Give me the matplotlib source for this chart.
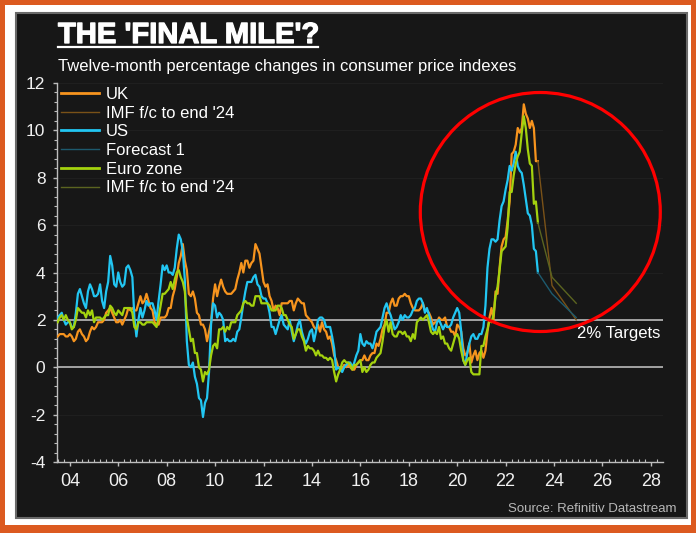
import numpy as np
import matplotlib
matplotlib.use("Agg")
import matplotlib.pyplot as plt
import matplotlib.patheffects as pe
from matplotlib.patches import Rectangle, Ellipse
from matplotlib.lines import Line2D

plt.rcParams['font.family'] = ['Liberation Sans', 'DejaVu Sans']
plt.rcParams['axes.unicode_minus'] = False

# Monthly 12-month CPI changes, Jul 2003 .. May 2023
uk = [1.3, 1.4, 1.4, 1.4, 1.3, 1.3,
      1.4, 1.3, 1.1, 1.2, 1.5, 1.6, 1.4, 1.3, 1.1, 1.2, 1.5, 1.7,
      1.6, 1.7, 1.9, 1.9, 1.9, 2.0, 2.3, 2.4, 2.5, 2.3, 2.1, 1.9,
      1.9, 2.0, 1.8, 2.0, 2.2, 2.5, 2.4, 2.5, 2.4, 2.4, 2.7, 3.0,
      2.7, 2.8, 3.1, 2.8, 2.5, 2.4, 1.9, 1.8, 1.8, 2.1, 2.1, 2.1,
      2.2, 2.5, 2.5, 3.0, 3.3, 3.8, 4.4, 4.7, 5.2, 4.5, 4.1, 3.1,
      3.0, 3.2, 2.9, 2.3, 2.2, 1.8, 1.8, 1.6, 1.1, 1.5, 1.9, 2.9,
      3.5, 3.0, 3.4, 3.7, 3.4, 3.2, 3.1, 3.1, 3.1, 3.2, 3.3, 3.7,
      4.0, 4.4, 4.0, 4.5, 4.5, 4.2, 4.4, 4.5, 5.2, 5.0, 4.8, 4.2,
      3.6, 3.4, 3.5, 3.0, 2.8, 2.4, 2.6, 2.5, 2.2, 2.7, 2.7, 2.7,
      2.7, 2.8, 2.8, 2.4, 2.7, 2.9, 2.8, 2.7, 2.7, 2.2, 2.1, 2.0,
      1.9, 1.7, 1.6, 1.8, 1.5, 1.9, 1.6, 1.5, 1.2, 1.3, 1.0, 0.5,
      0.3, 0.0, 0.0, -0.1, 0.1, 0.0, 0.1, 0.0, -0.1, -0.1, 0.1, 0.2,
      0.3, 0.3, 0.5, 0.3, 0.3, 0.5, 0.6, 0.6, 1.0, 0.9, 1.2, 1.6,
      1.8, 2.3, 2.3, 2.7, 2.9, 2.6, 2.6, 2.9, 3.0, 3.0, 3.1, 3.0,
      3.0, 2.7, 2.5, 2.4, 2.4, 2.4, 2.5, 2.7, 2.4, 2.4, 2.3, 2.1,
      1.8, 1.9, 1.9, 2.1, 2.0, 2.0, 2.1, 1.7, 1.7, 1.5, 1.5, 1.3,
      1.8, 1.7, 1.5, 0.8, 0.5, 0.6, 1.0, 0.2, 0.5, 0.7, 0.3, 0.6,
      0.7, 0.4, 0.7, 1.5, 2.1, 2.5, 2.0, 3.2, 3.1, 4.2, 5.1, 5.4,
      5.5, 6.2, 7.0, 9.0, 9.1, 9.4, 10.1, 9.9, 10.1, 11.1, 10.7, 10.5,
      10.1, 10.4, 10.1, 8.7, 8.7]

us = [2.1, 2.2, 2.3, 2.0, 1.8, 1.9,
      1.9, 1.7, 1.7, 2.3, 3.1, 3.3, 3.0, 2.7, 2.5, 3.2, 3.5, 3.3,
      3.0, 3.0, 3.1, 3.5, 2.8, 2.5, 3.2, 3.6, 4.7, 4.3, 3.5, 3.4,
      4.0, 3.6, 3.4, 3.5, 4.2, 4.3, 4.1, 3.8, 2.1, 1.3, 2.0, 2.5,
      2.1, 2.4, 2.8, 2.6, 2.7, 2.7, 2.4, 2.0, 2.8, 3.5, 4.3, 4.1,
      4.3, 4.0, 4.0, 3.9, 4.2, 5.0, 5.6, 5.4, 4.9, 3.7, 1.1, 0.1,
      0.0, 0.2, -0.4, -0.7, -1.3, -1.4, -2.1, -1.5, -1.3, -0.2, 1.8, 2.7,
      2.6, 2.1, 2.3, 2.2, 2.0, 1.1, 1.2, 1.1, 1.1, 1.2, 1.1, 1.5,
      1.6, 2.1, 2.7, 3.2, 3.6, 3.6, 3.6, 3.8, 3.9, 3.5, 3.4, 3.0,
      2.9, 2.9, 2.7, 2.3, 1.7, 1.7, 1.4, 1.7, 2.0, 2.2, 1.8, 1.7,
      1.6, 2.0, 1.5, 1.1, 1.4, 1.8, 2.0, 1.5, 1.2, 1.0, 1.2, 1.5,
      1.6, 1.1, 1.5, 2.0, 2.1, 2.1, 2.0, 1.7, 1.7, 1.7, 1.3, 0.8,
      -0.1, 0.0, -0.1, -0.2, 0.0, 0.1, 0.2, 0.2, 0.0, 0.2, 0.5, 0.7,
      1.4, 1.0, 0.9, 1.1, 1.0, 1.0, 0.8, 1.1, 1.5, 1.6, 1.7, 2.1,
      2.5, 2.7, 2.4, 2.2, 1.9, 1.6, 1.7, 1.9, 2.2, 2.0, 2.2, 2.1,
      2.1, 2.2, 2.4, 2.5, 2.8, 2.9, 2.9, 2.7, 2.3, 2.5, 2.2, 1.9,
      1.6, 1.5, 1.9, 2.0, 1.8, 1.6, 1.8, 1.7, 1.7, 1.8, 2.1, 2.3,
      2.5, 2.3, 1.5, 0.3, 0.1, 0.6, 1.0, 1.3, 1.4, 1.2, 1.2, 1.4,
      1.4, 1.7, 2.6, 4.2, 5.0, 5.4, 5.4, 5.3, 5.4, 6.2, 6.8, 7.0,
      7.5, 7.9, 8.5, 8.3, 8.6, 9.1, 8.5, 8.3, 8.2, 7.7, 7.1, 6.5,
      6.4, 6.0, 5.0, 4.9, 4.0]

ez = [1.9, 2.1, 2.2, 2.0, 2.2, 2.0,
      1.9, 1.6, 1.7, 2.0, 2.5, 2.4, 2.3, 2.3, 2.1, 2.4, 2.2, 2.4,
      1.9, 2.1, 2.1, 2.1, 2.0, 2.1, 2.2, 2.2, 2.6, 2.5, 2.3, 2.2,
      2.4, 2.3, 2.2, 2.5, 2.5, 2.5, 2.5, 2.3, 1.7, 1.6, 1.9, 1.9,
      1.8, 1.8, 1.9, 1.9, 1.9, 1.9, 1.8, 1.7, 2.1, 2.6, 3.1, 3.1,
      3.2, 3.3, 3.6, 3.3, 3.7, 4.0, 4.1, 3.8, 3.6, 3.2, 2.1, 1.6,
      1.1, 1.2, 0.6, 0.6, 0.0, -0.1, -0.6, -0.2, -0.3, -0.1, 0.5, 0.9,
      1.0, 0.8, 1.6, 1.6, 1.7, 1.5, 1.7, 1.6, 1.9, 1.9, 1.9, 2.2,
      2.3, 2.4, 2.7, 2.8, 2.7, 2.7, 2.6, 2.6, 3.0, 3.0, 3.0, 2.7,
      2.7, 2.7, 2.7, 2.6, 2.4, 2.4, 2.4, 2.6, 2.6, 2.5, 2.2, 2.2,
      2.0, 1.8, 1.7, 1.2, 1.4, 1.6, 1.6, 1.3, 1.1, 0.7, 0.9, 0.8,
      0.8, 0.7, 0.5, 0.7, 0.5, 0.5, 0.4, 0.4, 0.3, 0.4, 0.3, -0.2,
      -0.6, -0.3, -0.1, 0.2, 0.3, 0.2, 0.2, 0.1, -0.1, 0.1, 0.1, 0.2,
      0.3, -0.2, 0.0, -0.2, -0.1, 0.1, 0.2, 0.2, 0.4, 0.5, 0.6, 1.1,
      1.7, 2.0, 1.5, 1.9, 1.4, 1.3, 1.3, 1.5, 1.5, 1.4, 1.5, 1.3,
      1.3, 1.1, 1.4, 1.2, 1.9, 2.0, 2.1, 2.0, 2.1, 2.2, 1.9, 1.5,
      1.4, 1.5, 1.4, 1.7, 1.2, 1.3, 1.0, 1.0, 0.8, 0.7, 1.0, 1.3,
      1.4, 1.2, 0.7, 0.3, 0.1, 0.3, 0.4, -0.2, -0.3, -0.3, -0.3, -0.3,
      0.9, 0.9, 1.3, 1.6, 2.0, 1.9, 2.2, 3.0, 3.4, 4.1, 4.9, 5.0,
      5.1, 5.9, 7.4, 7.4, 8.1, 8.6, 8.9, 9.1, 9.9, 10.6, 10.1, 9.2,
      8.6, 8.5, 6.9, 7.0, 6.1]

# IMF forecasts: May 2023 -> end '23 -> end '24
fc_x = [2023 + 4 / 12, 2023 + 11 / 12, 2024 + 11 / 12]
uk_fc = [8.7, 3.45, 2.0]
us_fc = [4.0, 3.1, 2.1]
ez_fc = [6.1, 3.8, 2.7]

x = 2003.5 + np.arange(len(uk)) / 12

W, H = 696, 533
def fx(p):
    return p / W
def fy(p):
    return 1 - p / H

fig = plt.figure(figsize=(W / 100, H / 100), dpi=100)
fig.patch.set_facecolor('#DC5A20')
fig.patches.append(Rectangle((fx(5), fy(525)), fx(686), 520 / H, transform=fig.transFigure,
                             facecolor='white', edgecolor='none', zorder=0))
fig.patches.append(Rectangle((fx(16), fy(518)), fx(671), 505 / H, transform=fig.transFigure,
                             facecolor='#171717', edgecolor='#6a6a6a', lw=1.5, zorder=1))

ax = fig.add_axes([fx(56.5), fy(462), (663 - 56.5) / W, (462 - 83) / H])
ax.set_facecolor('none')
ax.set_zorder(3)

for v in range(-4, 13, 2):
    ax.axhline(v, color='#1f1f1f', lw=0.8, zorder=1)
ax.axhline(0, color='#c8c8c8', lw=1.1, zorder=2)
ax.axhline(2, color='#c8c8c8', lw=1.1, zorder=2)

ax.plot(x, uk, color='#F7941E', lw=1.6, label='UK', zorder=3)
ax.plot(fc_x, uk_fc, color='#7a5218', lw=1.0, label="IMF f/c to end '24", zorder=3)
ax.plot(x, us, color='#22C6F2', lw=1.6, label='US', zorder=3)
ax.plot(fc_x, us_fc, color='#1d5a6e', lw=1.0, label='Forecast 1', zorder=3)
ax.plot(x, ez, color='#A4D20E', lw=1.6, label='Euro zone', zorder=3)
ax.plot(fc_x, ez_fc, color='#5b6420', lw=1.0, label="IMF f/c to end '24", zorder=3)

ax.set_xlim(2003.45, 2028.5)
ax.set_ylim(-4, 12)
ax.set_yticks(range(-4, 13, 2))
ax.set_yticklabels([str(v) for v in range(-4, 13, 2)])
ax.set_yticks(np.arange(-4, 12.01, 0.4), minor=True)
ax.set_xticks(range(2004, 2029, 2))
ax.set_xticklabels(['%02d' % (y % 100) for y in range(2004, 2029, 2)])
ax.set_xticks(np.arange(2003.5, 2028.5, 0.25), minor=True)

for s in ['top', 'right']:
    ax.spines[s].set_visible(False)
for s in ['left', 'bottom']:
    ax.spines[s].set_color('#bdbdbd')
    ax.spines[s].set_linewidth(1.0)
ax.tick_params(axis='both', which='major', colors='#bdbdbd', length=3, width=1,
               labelcolor='#f0f0f0')
ax.tick_params(axis='y', which='major', labelsize=12.5, pad=5)
ax.tick_params(axis='x', which='major', labelsize=13, pad=5)
ax.tick_params(axis='both', which='minor', colors='#bdbdbd', length=2, width=0.8)
ax.tick_params(axis='x', which='minor', direction='in')

ax.text(2028.4, 1.75, '2% Targets', color='white', fontsize=12, ha='right', va='top')

leg = ax.legend(loc='upper left', bbox_to_anchor=(4 / 606.5, 1 - 4 / 379), frameon=False,
                fontsize=12, labelcolor='white', handlelength=2.3, handletextpad=0.4,
                labelspacing=0.22, borderpad=0, borderaxespad=0)
for h in leg.get_lines():
    if h.get_linewidth() > 1.2:
        h.set_linewidth(2.0)

# red circle around the recent surge
fig.patches.append(Ellipse((fx(540.3), fy(212)), 240 / W, 239 / H, transform=fig.transFigure,
                           facecolor='none', edgecolor='#ff0000', lw=2.3, zorder=5))

fig.text(fx(58), fy(43), "THE 'FINAL MILE'?", color='white', fontsize=21, fontweight='bold',
         va='baseline', ha='left',
         path_effects=[pe.withStroke(linewidth=0.9, foreground='white')])
fig.add_artist(Line2D([fx(58), fx(318)], [fy(46.5), fy(46.5)], transform=fig.transFigure,
                      color='white', lw=1.6))
fig.text(fx(58), fy(71), 'Twelve-month percentage changes in consumer price indexes',
         color='white', fontsize=12, va='baseline', ha='left')
fig.text(fx(676), fy(512), 'Source: Refinitiv Datastream', color='#b8b8b8', fontsize=9.5,
         va='baseline', ha='right')

fig.savefig('out.png', dpi=100, facecolor=fig.get_facecolor())
